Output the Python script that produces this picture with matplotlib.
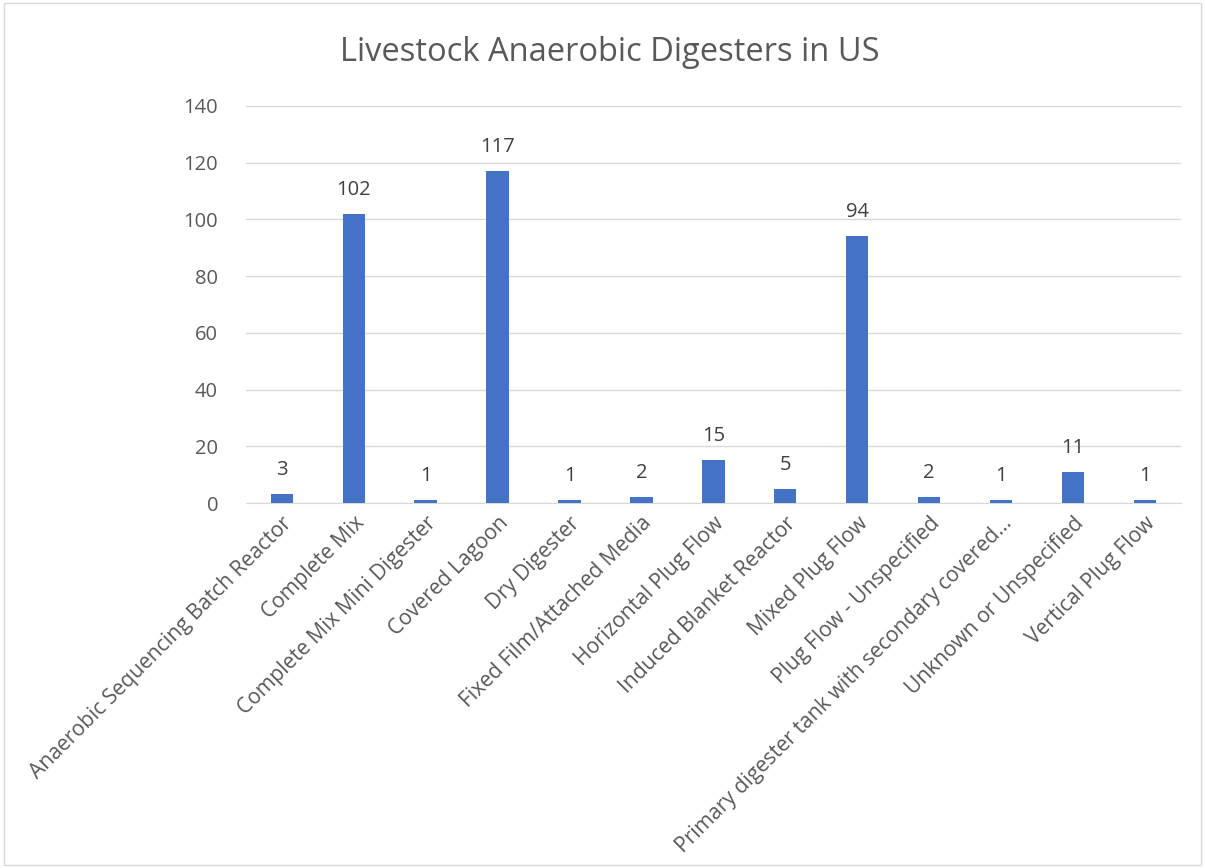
import matplotlib.pyplot as plt
import numpy as np

plt.rcParams['font.family'] = ['Open Sans', 'DejaVu Sans']

categories = [
    "Anaerobic Sequencing Batch Reactor", "Complete Mix", "Complete Mix Mini Digester",
    "Covered Lagoon", "Dry Digester", "Fixed Film/Attached Media", "Horizontal Plug Flow",
    "Induced Blanket Reactor", "Mixed Plug Flow", "Plug Flow - Unspecified",
    "Primary digester tank with secondary covered...", "Unknown or Unspecified",
    "Vertical Plug Flow",
]
counts = [3, 102, 1, 117, 1, 2, 15, 5, 94, 2, 1, 11, 1]
yticks = [0, 20, 40, 60, 80, 100, 120, 140]

TXT = "#595959"
fig = plt.figure(figsize=(12.05, 8.68), dpi=100)
ax = fig.add_axes([0.204, 0.4205, 0.776, 0.4575])

x = np.arange(len(categories))
ax.bar(x, counts, width=0.31, color="#4472c4", zorder=3)
for xi, v in zip(x, counts):
    ax.text(xi, v + 5, str(v), ha="center", va="bottom", fontsize=14.5, color="#404040")

ax.set_xlim(-0.5, len(categories) - 0.5)
ax.set_ylim(0, 140)
ax.set_yticks(yticks)
ax.grid(axis="y", color="#d9d9d9", linewidth=1, zorder=0)
for s in ["top", "right", "left"]:
    ax.spines[s].set_visible(False)
ax.spines["bottom"].set_color("#d9d9d9")
ax.tick_params(length=0, colors=TXT, labelsize=14.5)
ax.tick_params(axis="y", pad=20)
ax.tick_params(axis="x", pad=7, labelsize=15.2)
ax.set_xticks(x)
ax.set_xticklabels(categories, rotation=45, ha="right", rotation_mode="anchor")

fig.text(0.506, 0.94, "Livestock Anaerobic Digesters in US", ha="center", va="center",
         fontsize=23.5, color=TXT)

border = plt.Rectangle((0.003, 0.003), 0.994, 0.994, transform=fig.transFigure,
                       fill=False, edgecolor="#d9d9d9", linewidth=1)
fig.add_artist(border)

fig.savefig("out.png", dpi=100)
